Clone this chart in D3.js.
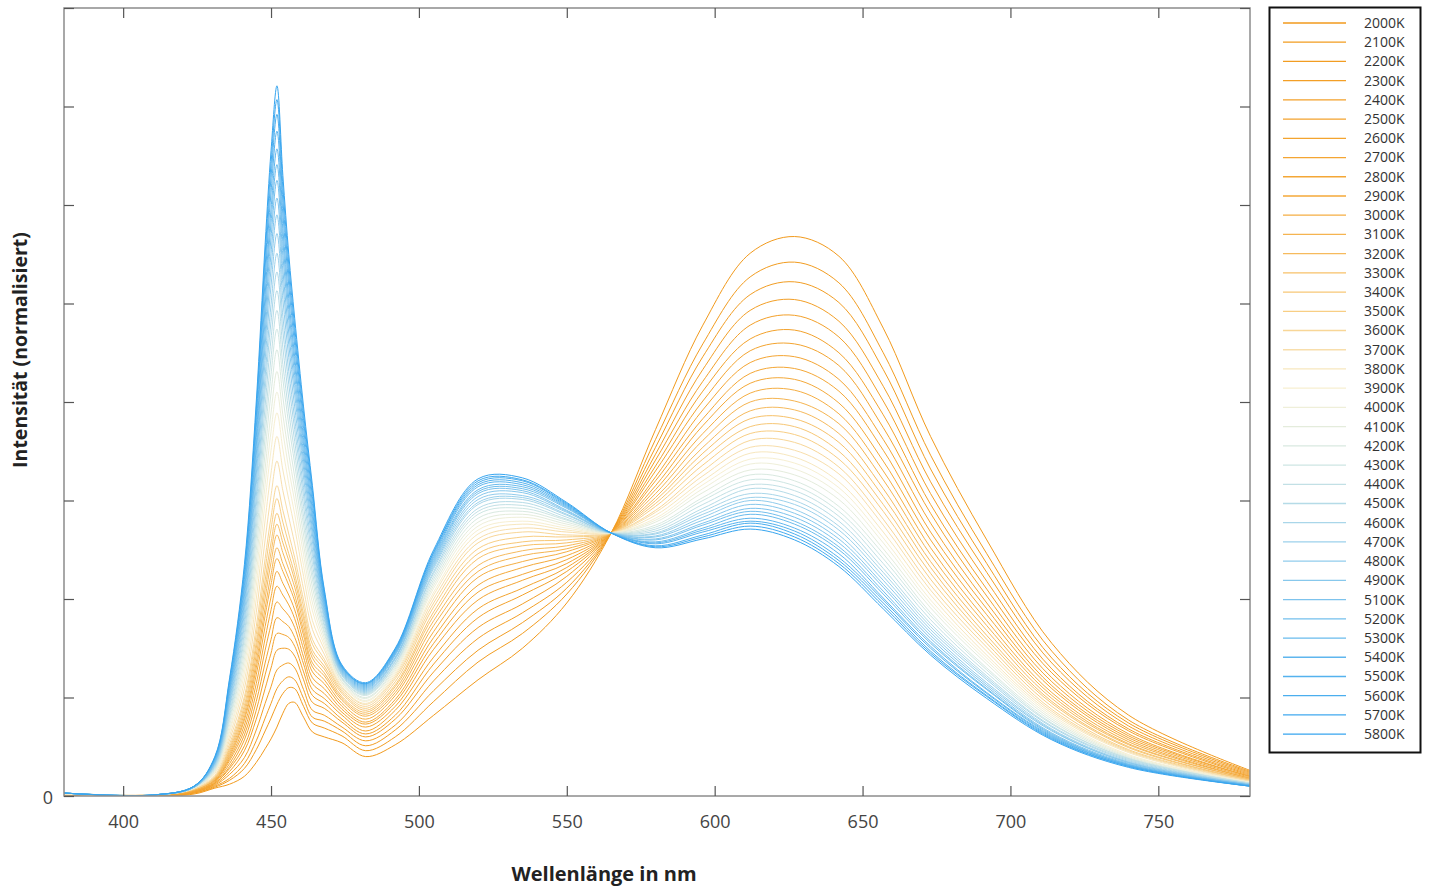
<!DOCTYPE html>
<html><head><meta charset="utf-8">
<script src="https://cdn.jsdelivr.net/npm/d3@7"></script>
<style>
html,body{margin:0;padding:0;background:#fff;}
text{font-family:"Open Sans","Noto Sans",sans-serif;}
</style></head>
<body><svg id="chart" width="1435" height="892"></svg>
<script>
// ---- data ----
const temperatures = [2000,2100,2200,2300,2400,2500,2600,2700,2800,2900,3000,3100,3200,3300,3400,3500,3600,3700,3800,3900,4000,4100,4200,4300,4400,4500,4600,4700,4800,4900,5100,5200,5300,5400,5500,5600,5700,5800];
const wavelengths = [380,410,424,431,436,441,445,448,450,452,454,456,458,461,464,468,474,482,492,505,520,535,550,565,580,596,612,627,642,657,673,692,714,740,781];
const xTickValues = [400,450,500,550,600,650,700,750];
const yTickValues = [0,1,2,3,4,5,6,7,8];
const yTickLabels = ["0","","","","","","","",""];

// intensity of each curve (2000K ... 5800K) at the given wavelength
const at380 = [.01,.01,.01,.01,.02,.02,.02,.02,.02,.02,.02,.02,.02,.02,.02,.02,.02,.02,.02,.02,.03,.03,.03,.03,.03,.03,.03,.03,.03,.03,.03,.03,.03,.03,.03,.03,.03,.03];
const at410 = [0,0,0,0,0,0,0,0,0,0,.01,.01,.01,.01,.01,.01,.01,.01,.01,.01,.01,.01,.01,.01,.01,.01,.01,.01,.01,.01,.01,.01,.01,.01,.01,.01,.01,.01];
const at424 = [.02,.03,.03,.04,.04,.04,.05,.05,.05,.06,.06,.06,.07,.07,.07,.07,.07,.08,.08,.08,.08,.08,.08,.09,.09,.09,.09,.09,.09,.09,.09,.09,.10,.10,.10,.10,.10,.10];
const at431 = [.08,.09,.10,.11,.12,.13,.13,.14,.15,.16,.16,.17,.18,.18,.19,.19,.20,.21,.23,.24,.25,.26,.27,.28,.29,.30,.31,.32,.33,.34,.34,.35,.36,.37,.38,.39,.39,.40];
const at436 = [.12,.16,.18,.22,.25,.28,.30,.33,.36,.38,.40,.42,.44,.46,.48,.50,.53,.57,.61,.65,.68,.72,.76,.79,.82,.85,.89,.92,.95,.98,1.01,1.04,1.07,1.09,1.12,1.15,1.18,1.20];
const at441 = [.20,.28,.33,.39,.46,.51,.57,.62,.67,.72,.77,.80,.84,.88,.92,.97,1.01,1.09,1.17,1.25,1.32,1.39,1.46,1.53,1.60,1.66,1.73,1.79,1.86,1.92,1.97,2.03,2.09,2.14,2.20,2.25,2.30,2.35];
const at445 = [.34,.47,.56,.67,.78,.87,.96,1.05,1.14,1.23,1.30,1.36,1.43,1.50,1.56,1.64,1.72,1.86,2.00,2.13,2.25,2.37,2.49,2.61,2.72,2.83,2.94,3.04,3.16,3.26,3.36,3.46,3.55,3.64,3.74,3.84,3.92,4.00];
const at448 = [.48,.66,.79,.94,1.09,1.23,1.35,1.48,1.60,1.72,1.83,1.91,2.01,2.10,2.19,2.30,2.41,2.60,2.80,2.99,3.16,3.32,3.49,3.65,3.80,3.96,4.12,4.26,4.42,4.57,4.70,4.84,4.97,5.09,5.24,5.37,5.49,5.60];
const at450 = [.58,.79,.94,1.11,1.30,1.45,1.59,1.74,1.89,2.02,2.15,2.25,2.37,2.47,2.57,2.71,2.83,3.05,3.28,3.51,3.70,3.89,4.09,4.28,4.45,4.64,4.82,4.99,5.18,5.35,5.51,5.67,5.82,5.96,6.13,6.28,6.42,6.55];
const at452 = [.70,.93,1.09,1.28,1.48,1.65,1.81,1.97,2.13,2.28,2.41,2.52,2.65,2.76,2.87,3.02,3.15,3.40,3.65,3.89,4.10,4.31,4.53,4.74,4.93,5.13,5.32,5.51,5.71,5.90,6.07,6.25,6.41,6.57,6.75,6.92,7.07,7.21];
const at454 = [.84,1.04,1.17,1.33,1.50,1.64,1.77,1.90,2.04,2.16,2.28,2.36,2.47,2.57,2.66,2.78,2.90,3.10,3.31,3.52,3.70,3.87,4.05,4.23,4.38,4.55,4.72,4.87,5.04,5.20,5.34,5.49,5.63,5.76,5.91,6.05,6.18,6.30];
const at456 = [.94,1.10,1.21,1.35,1.49,1.61,1.72,1.83,1.94,2.04,2.14,2.21,2.30,2.39,2.46,2.56,2.66,2.83,3.01,3.17,3.32,3.47,3.62,3.77,3.90,4.04,4.18,4.31,4.45,4.58,4.70,4.83,4.94,5.05,5.18,5.29,5.40,5.50];
const at458 = [.95,1.09,1.18,1.30,1.42,1.52,1.61,1.71,1.80,1.89,1.98,2.04,2.12,2.19,2.25,2.34,2.42,2.56,2.72,2.86,2.99,3.11,3.24,3.37,3.48,3.60,3.72,3.83,3.95,4.07,4.17,4.27,4.37,4.46,4.57,4.67,4.76,4.85];
const at461 = [.80,.91,.99,1.08,1.18,1.26,1.34,1.41,1.49,1.56,1.63,1.68,1.74,1.80,1.85,1.92,1.99,2.10,2.23,2.34,2.45,2.55,2.65,2.75,2.84,2.94,3.04,3.13,3.23,3.32,3.40,3.48,3.56,3.64,3.73,3.81,3.88,3.95];
const at464 = [.65,.74,.80,.87,.95,1.02,1.08,1.14,1.20,1.26,1.31,1.35,1.40,1.44,1.48,1.54,1.59,1.69,1.78,1.88,1.96,2.04,2.12,2.20,2.27,2.35,2.43,2.50,2.58,2.65,2.71,2.78,2.84,2.90,2.97,3.04,3.10,3.15];
const at468 = [.60,.69,.76,.82,.89,.94,.99,1.04,1.09,1.14,1.18,1.22,1.25,1.29,1.32,1.36,1.39,1.44,1.49,1.53,1.57,1.61,1.65,1.68,1.72,1.75,1.79,1.82,1.85,1.88,1.91,1.94,1.97,2.00,2.03,2.05,2.08,2.10];
const at474 = [.54,.61,.66,.70,.75,.78,.82,.85,.88,.91,.94,.97,.99,1.01,1.04,1.06,1.08,1.10,1.11,1.13,1.15,1.16,1.18,1.19,1.20,1.22,1.23,1.24,1.25,1.26,1.27,1.28,1.29,1.30,1.31,1.31,1.32,1.33];
const at482 = [.40,.46,.51,.56,.60,.63,.66,.70,.73,.75,.78,.81,.83,.85,.87,.89,.91,.93,.94,.96,.97,.99,1.00,1.02,1.03,1.04,1.05,1.06,1.07,1.08,1.09,1.10,1.11,1.12,1.13,1.14,1.14,1.15];
const at492 = [.52,.60,.67,.72,.78,.82,.87,.91,.95,.98,1.02,1.05,1.08,1.11,1.13,1.16,1.19,1.21,1.23,1.25,1.27,1.29,1.31,1.33,1.34,1.36,1.37,1.39,1.40,1.41,1.43,1.44,1.45,1.46,1.47,1.48,1.49,1.50];
const at505 = [.82,.96,1.07,1.17,1.26,1.34,1.41,1.49,1.55,1.61,1.67,1.73,1.78,1.83,1.87,1.92,1.96,2.00,2.04,2.07,2.11,2.14,2.17,2.20,2.23,2.26,2.28,2.31,2.33,2.35,2.37,2.39,2.41,2.43,2.45,2.47,2.48,2.50];
const at520 = [1.18,1.36,1.48,1.60,1.71,1.81,1.90,1.99,2.07,2.14,2.22,2.28,2.34,2.41,2.46,2.51,2.57,2.61,2.66,2.70,2.74,2.78,2.82,2.86,2.89,2.92,2.96,2.98,3.01,3.04,3.07,3.09,3.11,3.14,3.16,3.18,3.20,3.22];
const at535 = [1.50,1.65,1.76,1.86,1.95,2.04,2.11,2.19,2.25,2.32,2.38,2.44,2.49,2.54,2.58,2.63,2.68,2.72,2.76,2.79,2.83,2.86,2.89,2.92,2.95,2.98,3.01,3.03,3.05,3.08,3.10,3.12,3.14,3.16,3.18,3.20,3.21,3.23];
const at550 = [1.96,2.05,2.11,2.17,2.23,2.28,2.32,2.36,2.40,2.44,2.48,2.51,2.54,2.57,2.60,2.63,2.65,2.68,2.70,2.72,2.74,2.76,2.78,2.80,2.81,2.83,2.85,2.86,2.88,2.89,2.90,2.92,2.93,2.94,2.95,2.96,2.97,2.98];
const at565 = [2.67,2.67,2.67,2.67,2.67,2.67,2.67,2.67,2.67,2.67,2.67,2.67,2.67,2.67,2.67,2.67,2.67,2.67,2.67,2.67,2.67,2.67,2.67,2.67,2.67,2.67,2.67,2.67,2.67,2.67,2.67,2.67,2.67,2.67,2.67,2.67,2.67,2.67];
const at580 = [3.72,3.62,3.54,3.47,3.41,3.35,3.30,3.24,3.20,3.15,3.11,3.07,3.03,3.00,2.97,2.94,2.90,2.88,2.85,2.82,2.80,2.78,2.75,2.73,2.71,2.69,2.67,2.66,2.64,2.63,2.61,2.60,2.58,2.57,2.56,2.54,2.53,2.52];
const at596 = [4.78,4.59,4.46,4.33,4.21,4.11,4.01,3.92,3.83,3.76,3.68,3.61,3.54,3.48,3.42,3.36,3.30,3.25,3.20,3.16,3.12,3.08,3.03,3.00,2.96,2.92,2.89,2.86,2.83,2.80,2.77,2.75,2.72,2.70,2.68,2.65,2.63,2.61];
const at612 = [5.51,5.27,5.09,4.93,4.78,4.64,4.52,4.40,4.29,4.19,4.09,4.00,3.91,3.83,3.75,3.68,3.61,3.54,3.48,3.42,3.37,3.31,3.26,3.21,3.16,3.12,3.07,3.03,3.00,2.96,2.92,2.89,2.86,2.82,2.79,2.77,2.74,2.71];
const at627 = [5.68,5.42,5.22,5.04,4.88,4.73,4.59,4.46,4.34,4.23,4.12,4.01,3.92,3.83,3.75,3.67,3.59,3.51,3.44,3.38,3.32,3.26,3.20,3.15,3.10,3.05,3.00,2.96,2.91,2.87,2.83,2.79,2.76,2.72,2.69,2.66,2.63,2.60];
const at642 = [5.48,5.21,5.01,4.82,4.66,4.50,4.37,4.23,4.11,3.99,3.88,3.78,3.68,3.59,3.50,3.42,3.34,3.27,3.19,3.13,3.07,3.01,2.94,2.89,2.84,2.79,2.74,2.70,2.65,2.61,2.57,2.53,2.50,2.46,2.42,2.39,2.36,2.33];
const at657 = [4.75,4.50,4.33,4.16,4.01,3.87,3.74,3.62,3.51,3.40,3.30,3.21,3.12,3.04,2.96,2.89,2.81,2.75,2.68,2.62,2.57,2.51,2.46,2.41,2.36,2.31,2.27,2.23,2.19,2.15,2.12,2.08,2.05,2.01,1.99,1.96,1.93,1.90];
const at673 = [3.65,3.46,3.32,3.19,3.07,2.96,2.87,2.77,2.68,2.60,2.52,2.45,2.38,2.32,2.26,2.20,2.14,2.09,2.04,1.99,1.95,1.91,1.86,1.83,1.79,1.75,1.72,1.69,1.66,1.63,1.60,1.57,1.55,1.52,1.50,1.47,1.45,1.43];
const at692 = [2.60,2.46,2.36,2.27,2.18,2.10,2.03,1.96,1.90,1.84,1.78,1.73,1.68,1.63,1.59,1.55,1.51,1.47,1.43,1.40,1.37,1.34,1.30,1.28,1.25,1.22,1.20,1.18,1.15,1.13,1.11,1.09,1.08,1.05,1.04,1.02,1.01,.99];
const at714 = [1.55,1.47,1.40,1.35,1.29,1.25,1.20,1.16,1.12,1.09,1.05,1.02,.99,.96,.94,.91,.88,.86,.84,.82,.80,.78,.76,.74,.73,.71,.70,.68,.67,.66,.64,.63,.62,.61,.60,.59,.58,.57];
const at740 = [.82,.77,.74,.71,.68,.66,.63,.61,.59,.57,.55,.53,.52,.50,.49,.47,.46,.45,.44,.42,.41,.40,.39,.38,.38,.37,.36,.35,.34,.34,.33,.32,.32,.31,.31,.30,.30,.29];
const at781 = [.26,.25,.24,.23,.22,.21,.20,.20,.19,.18,.18,.17,.17,.16,.16,.16,.15,.15,.14,.14,.14,.13,.13,.13,.13,.12,.12,.12,.12,.11,.11,.11,.11,.11,.10,.10,.10,.10];

const columns = [at380,at410,at424,at431,at436,at441,at445,at448,at450,at452,at454,at456,at458,at461,at464,at468,at474,at482,at492,at505,at520,at535,at550,at565,at580,at596,at612,at627,at642,at657,at673,at692,at714,at740,at781];

// ---- drawing ----
const svg = d3.select("#chart");
const plot = {left:64, right:1250, top:8, bottom:796};
const x = d3.scaleLinear().domain([380,781]).range([plot.left, plot.right]);
const y = d3.scaleLinear().domain([0,8]).range([plot.bottom, plot.top]);

const color = d3.scaleLinear()
  .domain([0, 0.25, 0.4, 0.52, 0.62, 0.75, 1])
  .range(["#f29a1c","#f4a93a","#f8cc80","#f7f1d6","#cfe6e3","#93cdec","#37a5ef"])
  .interpolate(d3.interpolateRgb);

svg.append("defs").append("clipPath").attr("id","clip")
  .append("rect").attr("x",plot.left).attr("y",plot.top)
  .attr("width",plot.right-plot.left).attr("height",plot.bottom-plot.top);

const series = temperatures.map((t,i) => ({
  label: t + "K",
  color: color(i/(temperatures.length-1)),
  points: wavelengths.map((w,k) => [w, columns[k][i]])
}));

const line = d3.line().x(d=>x(d[0])).y(d=>y(d[1])).curve(d3.curveCatmullRom.alpha(0.5));

svg.append("g").attr("clip-path","url(#clip)")
  .selectAll("path").data(series).join("path")
  .attr("d", d=>line(d.points))
  .attr("fill","none")
  .attr("stroke", d=>d.color)
  .attr("stroke-width",1);

// frame
svg.append("rect").attr("x",plot.left).attr("y",plot.top)
  .attr("width",plot.right-plot.left).attr("height",plot.bottom-plot.top)
  .attr("fill","none").attr("stroke","#8c8c8c").attr("stroke-width",1.5);

// axes
const tickColor = "#555";
const gB = svg.append("g").attr("transform",`translate(0,${plot.bottom})`)
  .call(d3.axisBottom(x).tickValues(xTickValues).tickSize(-10).tickPadding(19).tickFormat(d3.format("d")));
const gT = svg.append("g").attr("transform",`translate(0,${plot.top})`)
  .call(d3.axisTop(x).tickValues(xTickValues).tickSize(-10).tickFormat(""));
const gL = svg.append("g").attr("transform",`translate(${plot.left},0)`)
  .call(d3.axisLeft(y).tickValues(yTickValues).tickSize(-10).tickPadding(11).tickFormat((d,i)=>yTickLabels[i]));
const gR = svg.append("g").attr("transform",`translate(${plot.right},0)`)
  .call(d3.axisRight(y).tickValues(yTickValues).tickSize(-10).tickFormat(""));
[gB,gT,gL,gR].forEach(g=>{
  g.select(".domain").remove();
  g.selectAll(".tick line").attr("stroke",tickColor).attr("stroke-width",1.2);
  g.selectAll(".tick text").attr("fill","#444").style("font-size","18px")
   .style("font-family",'"Open Sans","Noto Sans",sans-serif');
});
gL.selectAll(".tick text").attr("dy","0.42em");

// titles
svg.append("text").attr("x",604).attr("y",881).attr("text-anchor","middle")
  .style("font-size","20px").style("font-weight","700").attr("fill","#222")
  .text("Wellenlänge in nm");
svg.append("text").attr("transform","translate(27,350) rotate(-90)").attr("text-anchor","middle")
  .style("font-size","19.5px").style("font-weight","700").attr("fill","#222")
  .text("Intensität (normalisiert)");

// legend
const lg = svg.append("g");
lg.append("rect").attr("x",1269.5).attr("y",7.5).attr("width",151).attr("height",745)
  .attr("fill","#fff").attr("stroke","#111").attr("stroke-width",2);
const rowY = i => 23 + i*19.22;
const items = lg.selectAll("g.item").data(series).join("g").attr("class","item")
  .attr("transform",(d,i)=>`translate(0,${rowY(i)})`);
items.append("line").attr("x1",1283).attr("x2",1346).attr("y1",0).attr("y2",0)
  .attr("stroke",d=>d.color).attr("stroke-width",1.3);
items.append("text").attr("x",1364).attr("y",0).attr("dy","0.35em")
  .style("font-size","14px").attr("fill","#333").text(d=>d.label);
</script></body></html>
